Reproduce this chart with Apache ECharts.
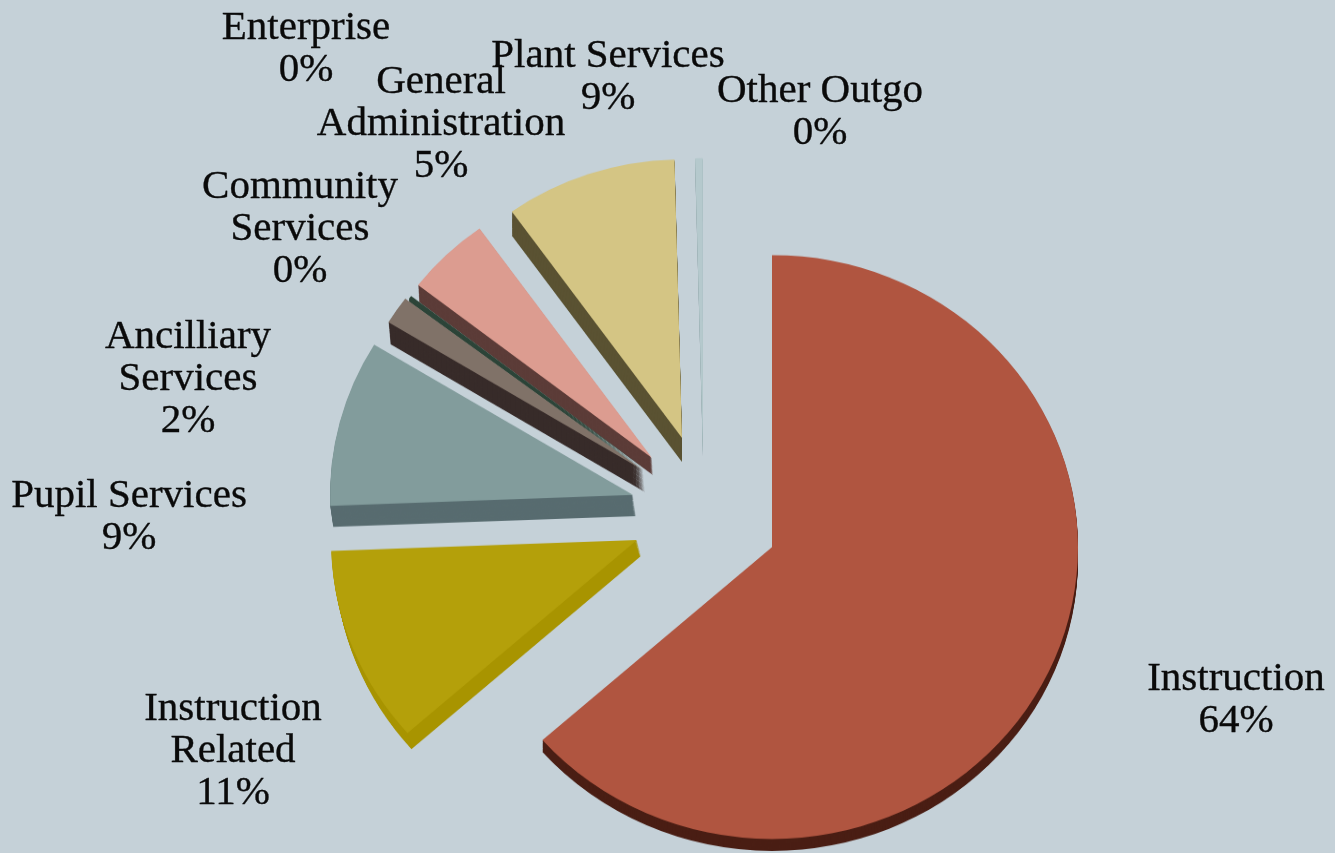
<!DOCTYPE html>
<html><head><meta charset="utf-8">
<style>
html,body{margin:0;padding:0;background:#c5d1d8;overflow:hidden}
#stage{position:relative;width:1335px;height:853px;overflow:hidden}
#pie{position:absolute;left:0;top:0;width:1335px;height:894px;transform-origin:0 0;transform:scaleY(0.954)}
#txt{position:absolute;left:0;top:0;width:1335px;height:853px}
</style>
<script src="https://cdn.jsdelivr.net/npm/echarts@6/dist/echarts.min.js"></script>
</head><body><div id="stage"><div id="pie"></div><div id="txt"></div></div>
<script>
// Data
const categories = ['Instruction','Instruction\nRelated','Pupil Services','Ancilliary\nServices','Community\nServices','Enterprise','General\nAdministration','Plant Services','Other Outgo'];
const sliceValues = [63.5,10.9,9.3,1.6,0.2,0,4.6,9.49,0.4];
// Layout and style
const tilt = 0.954;
const topColors  = ['#b05540','#b4a00a','#829c9c','#807268','#2c4438','#c5d1d8','#dc9c90','#d4c584','#b5c9cd'];
const wallColors = ['#4a1e14','#a89400','#586c70','#382c2a','#2c4438','#c5d1d8','#5c3c38','#5a5232','#8fa5a8'];
const explodedCenters = [[772,547],[637,540],[633,495],[643,470],[645,469],[645,469],[652,458],[682,438],[703,453]];
const radii  = [306,306,303,298,296,296,296,292,309];
const depths = [12,16,21,22,3,0,17,24,3];
const wallShiftX = [0,4,3,2,0,0,1,0,0];
const labelSpots = [[1236,700],[233,751],[129,517],[188,379],[300,229],[306,49],[441,124],[608,77],[820,112]];

const series = [];
function screenToCanvas(y){ return y/tilt; }
let cumulative = 0;
const starts = sliceValues.map(v=>{const s=90-cumulative*3.6;cumulative+=v;return s;});
sliceValues.forEach((v,i)=>{
  if(!(v>0)) return;
  const base = {type:'pie',silent:true,animation:false,clockwise:true,startAngle:starts[i],radius:[0,radii[i]],
    avoidLabelOverlap:false,label:{show:false},labelLine:{show:false}};
  for(let d=depths[i];d>0;d-=1){
    series.push(Object.assign({},base,{
      center:[explodedCenters[i][0]+wallShiftX[i]*d/depths[i],screenToCanvas(explodedCenters[i][1]+d)],
      data:[{value:v,itemStyle:{color:wallColors[i]}},{value:100-v,itemStyle:{color:'rgba(0,0,0,0)'}}]}));
  }
});
sliceValues.forEach((v,i)=>{
  if(!(v>0)) return;
  series.push({type:'pie',silent:true,animation:false,clockwise:true,startAngle:starts[i],radius:[0,radii[i]],
    center:[explodedCenters[i][0],screenToCanvas(explodedCenters[i][1])],avoidLabelOverlap:false,
    label:{show:false},labelLine:{show:false},
    data:[{name:categories[i],value:v,itemStyle:{color:topColors[i]}},
          {name:'rest',value:100-v,itemStyle:{color:'rgba(0,0,0,0)'}}]});
});
const pie = echarts.init(document.getElementById('pie'));
pie.setOption({backgroundColor:'#c5d1d8',animation:false,series});

const txt = echarts.init(document.getElementById('txt'));
txt.setOption({backgroundColor:'rgba(0,0,0,0)',animation:false,
  graphic:{elements:categories.map((c,i)=>({type:'text',silent:true,x:labelSpots[i][0],y:labelSpots[i][1],
    style:{text:c+'\n'+Math.round(sliceValues[i])+'%',fill:'#0a0a0a',stroke:'#0a0a0a',lineWidth:0.35,
      font:'41px "Liberation Serif"',lineHeight:42,align:'center',verticalAlign:'middle'}}))}});
</script></body></html>
